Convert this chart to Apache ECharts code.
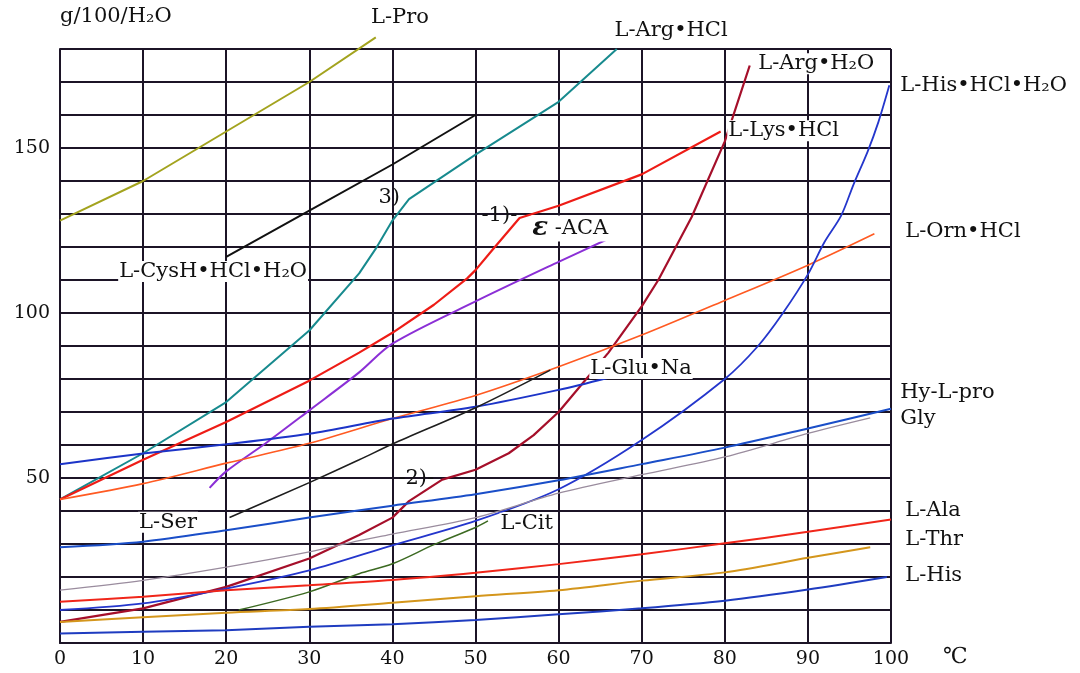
<!DOCTYPE html>
<html><head><meta charset="utf-8">
<script src="https://cdn.jsdelivr.net/npm/echarts@6/dist/echarts.min.js"></script>
<style>html,body{margin:0;padding:0;background:#fff}#c{width:1080px;height:673px}</style>
</head><body><div id="c"></div>
<script>
// ---- data (temperature °C, solubility g/100 g H2O) ----
const xMin = 0, xMax = 100, xStep = 10;
const yMin = 0, yMax = 180, yStep = 10;
const yLabelValues = [50, 100, 150];

const lPro       = [[0,128],[10,140],[20,155],[30,170],[38,183.5]];
const lCysH      = [[20,117],[30,131],[40,145],[50,160]];
const lArgHCl    = [[0,43.5],[10,57.5],[20,73],[30,94.7],[36,112],[38,119.5],[40,128],[42,134.5],[50,148],[60,164],[67,180]];
const lLysHCl    = [[0,43.5],[10,55.5],[20,67],[30,79.5],[36,88],[40,94],[45,102.5],[49,110.5],[50,113],[52,119],[55.3,128.8],[60,132.5],[70,142],[79.5,155]];
const lArgH2O    = [[0,6.4],[10,10.5],[20,17],[30,25.6],[36,32.7],[40,38],[42,43],[46,49.5],[50,52.5],[54,57.5],[57,63],[60,70],[63,79],[66,88],[70,102],[72,110],[76,129],[80,152],[83,175]];
const epsACA     = [[18,47],[20,52],[25,61],[30,70.5],[36,82],[40,90.7],[50,103.5],[60,115.5],[66,122.5]];
const lOrnHCl    = [[0,43.5],[10,48.3],[20,54.5],[30,60.5],[40,68],[50,75],[60,83.7],[70,93.3],[80,103.8],[90,114.5],[98,124]];
const lGluNa     = [[0,54.2],[10,57.4],[20,60.2],[30,63.4],[40,68],[50,71.6],[60,76.7],[66,80.4]];
const lSer       = [[20.4,38],[30,48.6],[36,55.5],[40,60.3],[50,71.3],[59,82.7]];
const lHisHClH2O = [[0,10],[10,12],[20,16.5],[30,22],[40,29.6],[50,37],[60,46.6],[70,61.5],[80,80],[84,90],[87,100],[90,111.7],[92,121.5],[94,129.5],[95.5,139],[97.2,149],[98.5,158],[99.8,169]];
const hyLPro     = [[0,29],[10,30.7],[20,34.2],[30,38],[40,41.6],[50,45.1],[60,49.3],[70,54.2],[80,59.2],[90,65],[100,71]];
const gly        = [[0,16],[10,19],[20,23],[30,27.6],[36,31],[40,33],[50,38],[60,45.4],[70,51],[80,56.4],[90,63.5],[97.5,68.2]];
const lCit       = [[21.5,10],[30,15.5],[36,21],[40,24],[45,29.8],[50,35],[51.5,37]];
const lAla       = [[0,12.5],[10,14],[20,16],[30,17.5],[40,19.1],[50,21.3],[60,23.9],[70,26.9],[80,30.2],[90,33.7],[100,37.4]];
const lThr       = [[0,6.4],[10,7.8],[20,9.2],[30,10.3],[40,12.2],[50,14.2],[60,16],[70,18.9],[80,21.4],[90,25.8],[97.5,29]];
const lHis       = [[0,2.9],[10,3.4],[20,3.9],[30,4.9],[40,5.7],[50,7],[60,8.7],[70,10.5],[80,12.8],[90,16.2],[99.5,20]];

// ---- annotation texts, anchored (left, middle) at data coordinates ----
const labelTexts = ['L-Pro','L-Arg•HCl','L-Arg•H₂O','L-His•HCl•H₂O','L-Lys•HCl','L-Orn•HCl','{e|ε} -ACA','3)','-1)-','L-CysH•HCl•H₂O','L-Glu•Na','Hy-L-pro','Gly','-2)-','L-Ser','L-Cit','L-Ala','L-Thr','L-His'];
const labelAnchors = [[37.3,189.4],[66.6,185.5],[83.9,175.5],[101,168.8],[80.3,155.2],[101.6,124.7],[56.7,125.6],[38.2,134.9],[50.6,129.5],[7,112.6],[63.7,83.2],[101,75.9],[101,68.1],[40.6,49.9],[9.4,36.6],[52.9,36.3],[101.6,40.2],[101.6,31.2],[101.6,20.3]];
const labelBoxed = [false,false,true,false,true,false,true,false,false,true,true,false,false,false,true,true,false,false,false];

// ---- styles ----
const FONT = '"DejaVu Serif", "Liberation Serif", serif';
const GRID_COLOR = '#1c1426';
const seriesDefs = [
  {name:'L-Pro', data:lPro, color:'#a3a31e', width:2, smooth:false, clip:false},
  {name:'L-CysH·HCl·H2O', data:lCysH, color:'#111111', width:2, smooth:false},
  {name:'L-Arg·HCl', data:lArgHCl, color:'#178a8e', width:2, smooth:false},
  {name:'L-Lys·HCl', data:lLysHCl, color:'#ee1c16', width:2.2, smooth:false},
  {name:'L-Arg·H2O', data:lArgH2O, color:'#a50f2a', width:2.2, smooth:false},
  {name:'ε-ACA', data:epsACA, color:'#8b2fd6', width:2, smooth:0.3},
  {name:'L-Orn·HCl', data:lOrnHCl, color:'#ff5a22', width:1.6, smooth:0.3},
  {name:'L-Glu·Na', data:lGluNa, color:'#1c34c8', width:2, smooth:0.3},
  {name:'L-Ser', data:lSer, color:'#1e1e1e', width:1.6, smooth:0.3},
  {name:'L-His·HCl·H2O', data:lHisHClH2O, color:'#2436cc', width:1.8, smooth:0.3},
  {name:'Hy-L-pro', data:hyLPro, color:'#1a4ec8', width:2, smooth:0.3},
  {name:'Gly', data:gly, color:'#9a8c9e', width:1.3, smooth:0.3},
  {name:'L-Cit', data:lCit, color:'#3c6a22', width:1.5, smooth:0.3},
  {name:'L-Ala', data:lAla, color:'#f0261a', width:2, smooth:0.3},
  {name:'L-Thr', data:lThr, color:'#d4961c', width:2, smooth:0.3},
  {name:'L-His', data:lHis, color:'#1f3cc0', width:2, smooth:0.3}
];

const chart = echarts.init(document.getElementById('c'), null, {renderer:'canvas'});
const option = {
  animation: false,
  backgroundColor: '#ffffff',
  grid: {left: 60, right: 189, top: 49, bottom: 30, containLabel: false},
  xAxis: {
    type: 'value', min: xMin, max: xMax, interval: xStep,
    name: '℃', nameLocation: 'end', nameGap: 52,
    nameTextStyle: {fontFamily: FONT, fontSize: 22, color: '#111', verticalAlign: 'top', padding: [3,0,0,0]},
    axisLine: {show: true, lineStyle: {color: GRID_COLOR, width: 2}},
    axisTick: {show: false},
    axisLabel: {fontFamily: FONT, fontSize: 19, color: '#111', margin: 7},
    splitLine: {show: true, lineStyle: {color: GRID_COLOR, width: 2}}
  },
  yAxis: {
    type: 'value', min: yMin, max: yMax, interval: yStep,
    name: 'g/100/H₂O', nameLocation: 'end', nameGap: 22,
    nameTextStyle: {fontFamily: FONT, fontSize: 21, color: '#111', align: 'left', verticalAlign: 'bottom'},
    axisLine: {show: true, onZero: false, lineStyle: {color: GRID_COLOR, width: 2}},
    axisTick: {show: false},
    axisLabel: {fontFamily: FONT, fontSize: 19, color: '#111', margin: 10,
      formatter: v => yLabelValues.includes(v) ? String(v) : ''},
    splitLine: {show: true, lineStyle: {color: GRID_COLOR, width: 2}}
  },
  series: seriesDefs.map(s => ({
    type: 'line', name: s.name, data: s.data, showSymbol: false, symbol: 'none',
    smooth: s.smooth, clip: s.clip !== false,
    lineStyle: {color: s.color, width: s.width}, z: 3
  }))
};
chart.setOption(option);

const graphics = labelTexts.map((t, i) => {
  const p = chart.convertToPixel({gridIndex: 0}, labelAnchors[i]);
  return {
    type: 'text', x: p[0], y: p[1], z: 100,
    style: {
      text: t, fill: '#111', fontFamily: FONT, fontSize: 21,
      align: 'left', verticalAlign: 'middle',
      backgroundColor: labelBoxed[i] ? '#ffffff' : 'transparent', padding: [0, 1],
      rich: {e: {fontFamily: FONT, fontSize: 26, fontWeight: 'bold', fontStyle: 'italic', fill: '#111'}}
    }
  };
});
chart.setOption({graphic: graphics});
</script>
</body></html>
